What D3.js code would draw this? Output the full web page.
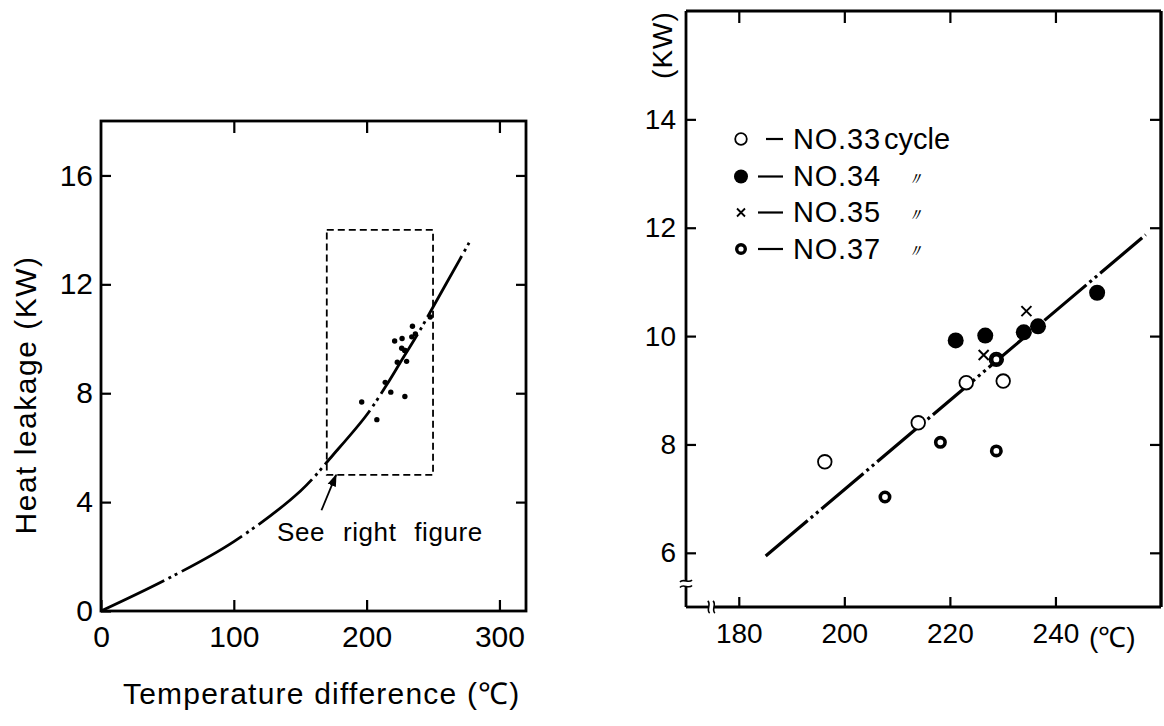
<!DOCTYPE html>
<html>
<head>
<meta charset="utf-8">
<script src="https://cdn.jsdelivr.net/npm/d3@7"></script>
<style>
  html, body { margin: 0; padding: 0; background: #fff; }
  svg { display: block; }
  text { font-family: "Liberation Sans", Arial, sans-serif; fill: #000; }
</style>
</head>
<body>
<svg id="chart" width="1164" height="726"></svg>
<script>
// ---------------- DATA ----------------
// Left figure: heat leakage curve (Temperature difference °C, KW)
const leakageCurve = [[0,0],[50,1.18],[100,2.55],[150,4.4],[175,5.75],[200,7.2],[215,8.3],[225,9.1],[240,10.3],[255,11.6],[270,12.9],[278,13.6]];
const zoomBoxX = [170, 250];
const zoomBoxY = [5, 14];
const leftXTicks = [0, 100, 200, 300];
const leftYTicks = [0, 4, 8, 12, 16];

// Right figure: measured points per cycle
const cycleNames = ["NO.33", "NO.34", "NO.35", "NO.37"];
const cycleSuffix = ["cycle", "〃", "〃", "〃"];
const no33 = [[196.3,7.68],[214.0,8.40],[223.1,9.14],[230.1,9.17],[228.8,9.57]];
const no34 = [[221.1,9.92],[226.7,10.01],[234.0,10.07],[236.7,10.18],[247.9,10.80]];
const no35 = [[234.5,10.46],[226.4,9.65]];
const no37 = [[207.7,7.03],[218.2,8.04],[228.8,7.88],[228.8,9.57]];
const fitLine = [[185.1,5.94],[257.1,11.87]];
const rightXTicks = [180, 200, 220, 240];
const rightYTicks = [6, 8, 10, 12, 14];

// ---------------- DRAW ----------------
const svg = d3.select("#chart");
svg.append("defs").append("marker")
  .attr("id", "arrow").attr("viewBox", "0 0 10 10").attr("refX", 9).attr("refY", 5)
  .attr("markerWidth", 7).attr("markerHeight", 7).attr("orient", "auto")
  .append("path").attr("d", "M0,1.5 L10,5 L0,8.5 Z").attr("fill", "#000");

function styleAxis(g, fontSize) {
  g.select(".domain").remove();
  g.selectAll(".tick line").attr("stroke", "#000").attr("stroke-width", 2.2);
  g.selectAll(".tick text").attr("font-size", fontSize).attr("font-family", "Liberation Sans, Arial, sans-serif").attr("fill", "#000");
}

// ===== LEFT FIGURE =====
const lx = d3.scaleLinear().domain([0, 320]).range([101, 526]);
const ly = d3.scaleLinear().domain([0, 18]).range([611, 121]);
const L = svg.append("g");

L.append("g").attr("transform", `translate(0,${ly(0)})`)
  .call(d3.axisBottom(lx).tickValues(leftXTicks).tickSize(-11).tickSizeOuter(0).tickPadding(15).tickFormat(d3.format("d")))
  .call(g => styleAxis(g, 30));
L.append("g").attr("transform", `translate(0,${ly(18)})`)
  .call(d3.axisTop(lx).tickValues(leftXTicks.slice(1)).tickSize(-12).tickSizeOuter(0).tickFormat(""))
  .call(g => styleAxis(g, 30));
L.append("g").attr("transform", `translate(${lx(0)},0)`)
  .call(d3.axisLeft(ly).tickValues(leftYTicks).tickSize(-10).tickSizeOuter(0).tickPadding(8).tickFormat(d3.format("d")))
  .call(g => styleAxis(g, 30));
L.append("g").attr("transform", `translate(${lx(320)},0)`)
  .call(d3.axisRight(ly).tickValues(leftYTicks.slice(1)).tickSize(-10).tickSizeOuter(0).tickFormat(""))
  .call(g => styleAxis(g, 30));

L.append("rect")
  .attr("x", lx(0)).attr("y", ly(18)).attr("width", lx(320) - lx(0)).attr("height", ly(0) - ly(18))
  .attr("fill", "none").attr("stroke", "#000").attr("stroke-width", 2.8);

// dashed zoom box
L.append("rect")
  .attr("x", lx(zoomBoxX[0])).attr("y", ly(zoomBoxY[1]))
  .attr("width", lx(zoomBoxX[1]) - lx(zoomBoxX[0])).attr("height", ly(zoomBoxY[0]) - ly(zoomBoxY[1]))
  .attr("fill", "none").attr("stroke", "#000").attr("stroke-width", 1.8).attr("stroke-dasharray", "7,4");

// curve
L.append("path").datum(leakageCurve)
  .attr("d", d3.line().x(d => lx(d[0])).y(d => ly(d[1])).curve(d3.curveCatmullRom.alpha(0.5)))
  .attr("fill", "none").attr("stroke", "#000").attr("stroke-width", 2.8)
  .attr("stroke-dasharray", "70,5,3,4,3,5");

// dots (all measured points)
const allPts = [].concat(no33, no34, no35, no37);
L.selectAll("circle.dot").data(allPts).join("circle").attr("class", "dot")
  .attr("cx", d => lx(d[0])).attr("cy", d => ly(d[1])).attr("r", 2.7).attr("fill", "#000");

// annotation
L.append("line")
  .attr("x1", lx(166)).attr("y1", ly(3.7)).attr("x2", lx(177)).attr("y2", ly(5.0))
  .attr("stroke", "#000").attr("stroke-width", 1.8).attr("marker-end", "url(#arrow)");
L.append("text").attr("x", 277).attr("y", 541).attr("font-size", 26)
  .attr("word-spacing", 10).attr("letter-spacing", 0.6).text("See right figure");

// axis titles
L.append("text").attr("transform", "translate(36,395) rotate(-90)").attr("text-anchor", "middle")
  .attr("font-size", 30).attr("letter-spacing", 1.5).text("Heat leakage (KW)");
L.append("text").attr("x", 123).attr("y", 704).attr("font-size", 30).attr("letter-spacing", 1.2)
  .text("Temperature difference (℃)");

// ===== RIGHT FIGURE =====
const rx = d3.scaleLinear().domain([170, 260]).range([686, 1161]);
const ry = d3.scaleLinear().domain([5, 16]).range([607, 11]);
const R = svg.append("g");

R.append("g").attr("transform", `translate(0,${ry(5)})`)
  .call(d3.axisBottom(rx).tickValues(rightXTicks).tickSize(-10).tickSizeOuter(0).tickPadding(16).tickFormat(d3.format("d")))
  .call(g => styleAxis(g, 28));
R.append("g").attr("transform", `translate(0,${ry(16)})`)
  .call(d3.axisTop(rx).tickValues(rightXTicks).tickSize(-12).tickSizeOuter(0).tickFormat(""))
  .call(g => styleAxis(g, 28));
R.append("g").attr("transform", `translate(${rx(170)},0)`)
  .call(d3.axisLeft(ry).tickValues(rightYTicks).tickSize(-10).tickSizeOuter(0).tickPadding(10).tickFormat(d3.format("d")))
  .call(g => styleAxis(g, 28));
R.append("g").attr("transform", `translate(${rx(260)},0)`)
  .call(d3.axisRight(ry).tickValues(rightYTicks).tickSize(-11).tickSizeOuter(0).tickFormat(""))
  .call(g => styleAxis(g, 28));

// frame with breaks
const yBrkA = ry(5.48), yBrkB = ry(5.38);
const xBrkA = rx(174.3), xBrkB = rx(175.3);
const frame = R.append("g").attr("stroke", "#000").attr("fill", "none").attr("stroke-width", 2.8);
frame.append("line").attr("x1", rx(170)).attr("y1", ry(16)).attr("x2", rx(260)).attr("y2", ry(16));
frame.append("line").attr("x1", rx(260)).attr("y1", ry(16)).attr("x2", rx(260)).attr("y2", ry(5)).attr("stroke-width", 3.4);
frame.append("line").attr("x1", rx(170)).attr("y1", ry(16)).attr("x2", rx(170)).attr("y2", yBrkA);
frame.append("line").attr("x1", rx(170)).attr("y1", yBrkB).attr("x2", rx(170)).attr("y2", ry(5));
frame.append("line").attr("x1", rx(170)).attr("y1", ry(5)).attr("x2", xBrkA).attr("y2", ry(5));
frame.append("line").attr("x1", xBrkB).attr("y1", ry(5)).attr("x2", rx(260)).attr("y2", ry(5));
const brk = R.append("g").attr("stroke", "#000").attr("fill", "none").attr("stroke-width", 1.6);
[yBrkA, yBrkB].forEach(y => {
  const x0 = rx(170);
  brk.append("path").attr("d", `M${x0-6},${y+1} C${x0-3},${y-3} ${x0+3},${y+3} ${x0+6},${y-1}`);
});
[xBrkA, xBrkB].forEach(x => {
  const y0 = ry(5);
  brk.append("path").attr("d", `M${x-1},${y0-6} C${x+3},${y0-3} ${x-3},${y0+3} ${x+1},${y0+6}`);
});

// unit labels
R.append("text").attr("x", 1089).attr("y", 647).attr("font-size", 28).text("(℃)");
R.append("text").attr("transform", "translate(672,45) rotate(-90)").attr("text-anchor", "middle")
  .attr("font-size", 28).attr("letter-spacing", 1).text("(KW)");

// regression line
R.append("path").datum(fitLine)
  .attr("d", d3.line().x(d => rx(d[0])).y(d => ry(d[1])))
  .attr("fill", "none").attr("stroke", "#000").attr("stroke-width", 3.2)
  .attr("stroke-dasharray", "55,4,3,4,3,4");

// markers
R.selectAll("circle.n33").data(no33).join("circle").attr("class", "n33")
  .attr("cx", d => rx(d[0])).attr("cy", d => ry(d[1])).attr("r", 6.8)
  .attr("fill", "#fff").attr("stroke", "#000").attr("stroke-width", 1.8);
R.selectAll("circle.n34").data(no34).join("circle").attr("class", "n34")
  .attr("cx", d => rx(d[0])).attr("cy", d => ry(d[1])).attr("r", 8).attr("fill", "#000");
R.selectAll("path.n35").data(no35).join("path").attr("class", "n35")
  .attr("d", d => { const x = rx(d[0]), y = ry(d[1]), a = 5; return `M${x-a},${y-a}L${x+a},${y+a}M${x-a},${y+a}L${x+a},${y-a}`; })
  .attr("stroke", "#000").attr("stroke-width", 2);
R.selectAll("circle.n37").data(no37).join("circle").attr("class", "n37")
  .attr("cx", d => rx(d[0])).attr("cy", d => ry(d[1])).attr("r", 4.7)
  .attr("fill", "#fff").attr("stroke", "#000").attr("stroke-width", 3.6);

// legend
const lg = R.append("g");
const rowY = [139, 176.5, 212.5, 249];
rowY.forEach((y, i) => {
  const mx = 741;
  if (i === 0) lg.append("circle").attr("cx", mx).attr("cy", y).attr("r", 5.8).attr("fill", "#fff").attr("stroke", "#000").attr("stroke-width", 1.8);
  if (i === 1) lg.append("circle").attr("cx", mx).attr("cy", y).attr("r", 7).attr("fill", "#000");
  if (i === 2) lg.append("path").attr("d", `M${mx-4},${y-4}L${mx+4},${y+4}M${mx-4},${y+4}L${mx+4},${y-4}`).attr("stroke", "#000").attr("stroke-width", 1.8);
  if (i === 3) lg.append("circle").attr("cx", mx).attr("cy", y).attr("r", 4.3).attr("fill", "#fff").attr("stroke", "#000").attr("stroke-width", 3.4);
  lg.append("line").attr("x1", i === 0 ? 766 : 758).attr("x2", 783).attr("y1", y).attr("y2", y)
    .attr("stroke", "#000").attr("stroke-width", 2.2);
  lg.append("text").attr("x", 793).attr("y", y + 9.5).attr("font-size", 29).attr("letter-spacing", 0.8).text(cycleNames[i]);
  if (i === 0) {
    lg.append("text").attr("x", 884).attr("y", y + 9.5).attr("font-size", 29).text(cycleSuffix[i]);
  } else {
    lg.append("text").attr("x", 906).attr("y", y + 8).attr("font-size", 18)
      .attr("font-family", "Noto Sans CJK JP, sans-serif").attr("font-style", "italic").text(cycleSuffix[i]);
  }
});
</script>
</body>
</html>
